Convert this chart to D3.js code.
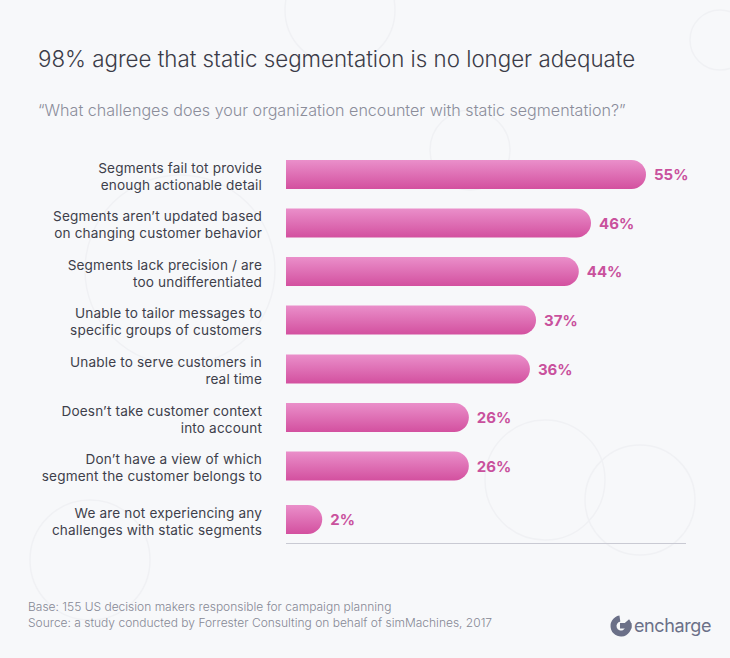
<!DOCTYPE html>
<html><head><meta charset="utf-8">
<script src="https://cdn.jsdelivr.net/npm/d3@7"></script>
<style>
html,body{margin:0;padding:0;background:#fff;}
svg{display:block;}
</style></head>
<body>
<script>
const categories = [
  ["Segments fail tot provide", "enough actionable detail"],
  ["Segments aren\u2019t updated based", "on changing customer behavior"],
  ["Segments lack precision / are", "too undifferentiated"],
  ["Unable to tailor messages to", "specific groups of customers"],
  ["Unable to serve customers in", "real time"],
  ["Doesn\u2019t take customer context", "into account"],
  ["Don\u2019t have a view of which", "segment the customer belongs to"],
  ["We are not experiencing any", "challenges with static segments"]
];
const values = [55, 46, 44, 37, 36, 26, 26, 2];
const valueLabels = ["55%", "46%", "44%", "37%", "36%", "26%", "26%", "2%"];
const title = "98% agree that static segmentation is no longer adequate";
const subtitle = "\u201cWhat challenges does your organization encounter with static segmentation?\u201d";
const footnotes = [
  "Base: 155 US decision makers responsible for campaign planning",
  "Source: a study conducted by Forrester Consulting on behalf of simMachines, 2017"
];

const W = 730, H = 658;
const svg = d3.select("body").append("svg").attr("width", W).attr("height", H);
const defs = svg.append("defs");
const grad = defs.append("linearGradient").attr("id", "barGrad")
  .attr("x1", 0).attr("y1", 0).attr("x2", 0).attr("y2", 1);
grad.append("stop").attr("offset", "0%").attr("stop-color", "#ea8fca");
grad.append("stop").attr("offset", "100%").attr("stop-color", "#d3509f");

svg.append("rect").attr("width", W).attr("height", H).attr("fill", "#f7f8fa");

// faint decorative shapes
const deco = svg.append("g").attr("fill", "none").attr("stroke", "#f0f1f4").attr("stroke-width", 1.5);
[[340, 10, 55], [545, 480, 60], [640, 500, 55], [720, 40, 30], [180, 270, 95], [90, 560, 60], [470, 150, 40]]
  .forEach(([cx, cy, r]) => deco.append("circle").attr("cx", cx).attr("cy", cy).attr("r", r));

svg.append("text").attr("x", 38).attr("y", 67)
  .attr("font-family", "Inter, sans-serif").attr("font-weight", 300)
  .attr("font-size", 22.3).attr("fill", "#3b3c48").text(title);
svg.append("text").attr("x", 38).attr("y", 116)
  .attr("font-family", "Inter, sans-serif").attr("font-weight", 300)
  .attr("font-size", 16.1).attr("fill", "#8b8d9a").text(subtitle);

const x0 = 286;
const x = d3.scaleLinear().domain([0, 55]).range([24, 360]);
const bh = 29;
const centers = [174.5, 223, 271.5, 320, 369, 417.5, 466, 519.5];
const cy = i => centers[i];

const rows = svg.append("g").selectAll("g").data(values).join("g");

rows.append("path")
  .attr("fill", "url(#barGrad)")
  .attr("d", (d, i) => {
    const w = x(d), r = bh / 2, top = cy(i) - r;
    return `M${x0},${top} H${x0 + w - r} A${r},${r} 0 0 1 ${x0 + w - r},${top + bh} H${x0} Z`;
  });

rows.append("text")
  .attr("x", d => x0 + x(d) + 8)
  .attr("y", (d, i) => cy(i) + 5.5)
  .attr("font-family", "Inter, sans-serif").attr("font-weight", 700)
  .attr("font-size", 15).attr("fill", "#c9519d")
  .text((d, i) => valueLabels[i]);

const lbl = rows.append("text")
  .attr("text-anchor", "end")
  .attr("font-family", "Inter, sans-serif").attr("font-size", 13.6)
  .attr("letter-spacing", 0.15)
  .attr("fill", "#3e3f4b");
lbl.each(function(d, i) {
  const t = d3.select(this);
  categories[i].forEach((line, k) => {
    t.append("tspan").attr("x", 262).attr("y", cy(i) - 2 + k * 17).text(line);
  });
});

svg.append("line").attr("x1", x0).attr("x2", 686).attr("y1", 543.5).attr("y2", 543.5)
  .attr("stroke", "#c9cad3").attr("stroke-width", 1);

footnotes.forEach((f, i) => {
  svg.append("text").attr("x", 28).attr("y", 611 + i * 16)
    .attr("font-family", "Inter, sans-serif").attr("font-weight", 300)
    .attr("font-size", 12).attr("fill", "#868895").text(f);
});

// logo
const logo = svg.append("g").attr("transform", "translate(621,626)");
const arc = d3.arc().innerRadius(4.5).outerRadius(10.5).startAngle(Math.PI * 0.28).endAngle(Math.PI * 2 - 0.15);
logo.append("path").attr("fill", "#6b7088").attr("d", arc());
logo.append("rect").attr("x", -1).attr("y", -3).attr("width", 11.5).attr("height", 5.5).attr("fill", "#6b7088");
svg.append("text").attr("x", 634).attr("y", 632)
  .attr("font-family", "Inter, sans-serif").attr("font-weight", 400)
  .attr("font-size", 18).attr("fill", "#6b7088").attr("letter-spacing", -0.4).text("encharge");
</script>
</body></html>
